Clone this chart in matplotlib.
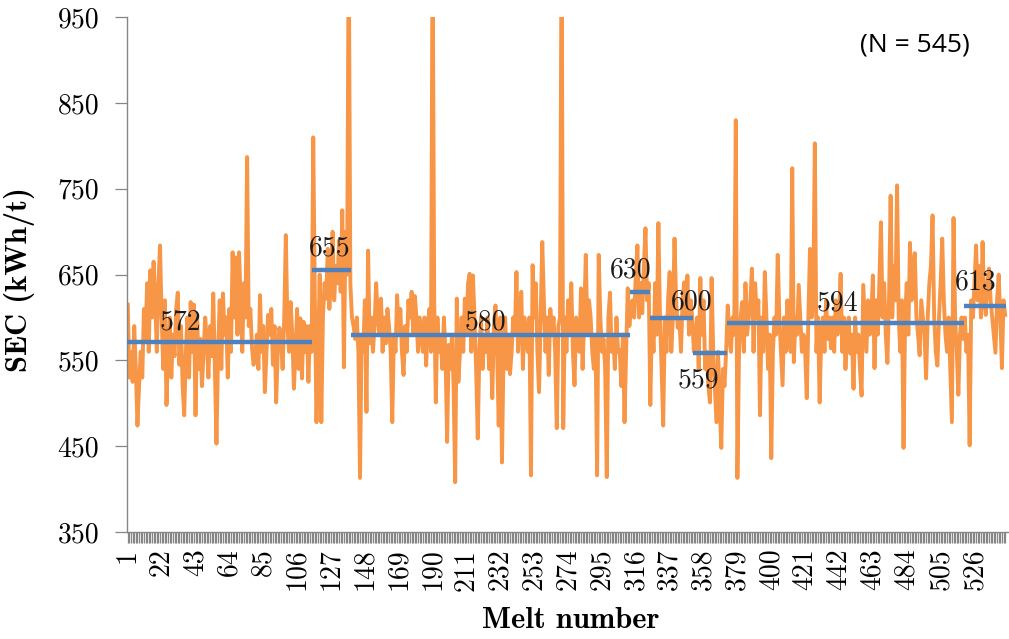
import matplotlib
matplotlib.use("Agg")
import matplotlib.pyplot as plt
import numpy as np

plt.rcParams['axes.formatter.use_mathtext'] = True

# ---- data -------------------------------------------------------------
sec_g1 = [615, 530, 560, 525, 590, 540, 474, 520, 560, 530, 610, 575, 640, 560, 655, 600, 665, 620, 560, 640,
          684, 600, 540, 620, 498, 560, 600, 530, 580, 555, 610, 629, 545, 590, 520, 486, 560, 600, 530, 618,
          560, 615, 486, 600, 540, 575, 520, 560, 600, 572, 530, 590, 555, 628, 540, 453, 560, 620, 540, 628,
          580, 600, 530, 610, 560, 676, 600, 670, 580, 676, 620, 560, 640, 600, 787, 590, 610, 565, 545, 553,
          580, 540, 626, 560, 590, 513, 560, 603, 580, 610, 545, 590, 501, 560, 588, 575, 540, 600, 696, 590,
          560, 618, 580, 517, 560, 610, 540, 599, 529, 595, 560, 590, 525, 590, 560]
sec_g2 = [810, 620, 478, 560, 650, 478, 600, 640, 622, 680, 610, 650, 700, 620, 660, 640, 690, 630, 725, 542,
          700, 650, 1050, 640]
sec_g3 = [600, 590, 575, 600, 560, 413, 580, 560, 620, 490, 678, 570, 600, 560, 590, 640, 600, 580, 622, 560,
          600, 570, 610, 590, 560, 478, 580, 560, 626, 580, 610, 560, 533, 590, 560, 620, 600, 630, 580, 625,
          600, 560, 600, 580, 560, 600, 544, 590, 610, 560, 1050, 620, 501, 600, 560, 580, 540, 600, 560, 455,
          568, 540, 580, 520, 408, 622, 525, 560, 600, 560, 622, 580, 640, 651, 560, 649, 600, 540, 459, 560,
          600, 540, 580, 560, 600, 540, 580, 506, 590, 614, 560, 474, 600, 431, 560, 600, 540, 580, 534, 560,
          600, 580, 653, 560, 600, 630, 540, 600, 580, 560, 600, 416, 661, 600, 640, 560, 513, 600, 688, 620,
          560, 600, 533, 610, 580, 600, 560, 471, 590, 600, 1050, 471, 600, 560, 620, 580, 640, 560, 521, 600,
          580, 560, 634, 540, 600, 673, 580, 620, 600, 560, 540, 580, 416, 673, 600, 560, 575, 540, 414, 600,
          629, 560, 580, 540, 600, 560, 562, 520, 580, 478, 560, 634, 590]
sec_g4 = [611, 620, 600, 650, 684, 600, 640, 605, 660, 704, 620, 640]
sec_g5 = [498, 600, 560, 640, 580, 710, 600, 540, 474, 600, 560, 620, 653, 560, 600, 692, 620, 588, 600, 560,
          620, 641, 600, 649, 580, 620, 600]
sec_g6 = [560, 571, 600, 540, 646, 580, 620, 540, 560, 520, 501, 646, 560, 520, 478, 560, 500, 448, 540, 520,
          560]
sec_g7 = [614, 580, 560, 600, 580, 830, 413, 560, 600, 618, 560, 640, 580, 600, 620, 657, 560, 640, 600, 620,
          486, 600, 560, 653, 600, 540, 580, 436, 560, 600, 580, 673, 600, 560, 521, 600, 560, 620, 580, 560,
          774, 548, 600, 580, 638, 600, 560, 580, 560, 506, 600, 680, 600, 620, 803, 560, 600, 501, 580, 600,
          560, 620, 575, 600, 564, 600, 560, 620, 580, 600, 651, 560, 600, 540, 580, 600, 558, 580, 517, 600,
          560, 580, 540, 509, 638, 600, 560, 620, 580, 600, 649, 541, 620, 580, 640, 711, 600, 640, 580, 547,
          620, 742, 600, 660, 620, 754, 600, 560, 620, 448, 600, 640, 580, 687, 620, 660, 675, 600, 580, 556,
          620, 600, 580, 529, 600, 640, 660, 719, 600, 560, 544, 600, 640, 692, 620, 580, 560, 600, 540, 478,
          716, 600, 560, 510, 580, 600, 575]
sec_g8 = [600, 560, 580, 451, 620, 600, 640, 684, 620, 660, 600, 688, 620, 603, 640, 657, 620, 600, 580, 559,
          620, 650, 600, 541, 620, 603]

groups = [sec_g1, sec_g2, sec_g3, sec_g4, sec_g5, sec_g6, sec_g7, sec_g8]
group_means = [572, 655, 580, 630, 600, 559, 594, 613]
label_dx = [20, -3, 70, -13, 13, -10, 55, -6]   # label left edge offset from segment start (melts)
label_dy = [22, 26, 14, 25, 18, -32, 23, 28]    # label y offset from mean (kWh/t)

sec = np.concatenate(groups)
n = len(sec)
melts = np.arange(1, n + 1)

# ---- figure -----------------------------------------------------------
W, H = 1009, 639
fig = plt.figure(figsize=(W / 100, H / 100), dpi=100)
ax = fig.add_axes([0.126, 0.1675, 0.874, 0.8055])

orange = '#F79646'
blue = '#4F81BD'
grey = '#868686'

ax.plot(melts, sec, color=orange, lw=2.8, solid_joinstyle='round', zorder=2)

start = 1
for g, m, dx, dy in zip(groups, group_means, label_dx, label_dy):
    end = start + len(g) - 1
    ax.hlines(m, start - 0.5, end + 0.5, color=blue, lw=3.2, zorder=3)
    ax.text(start + dx, m + dy, str(m), fontsize=20, family='cmr10',
            ha='left', va='center', color='#1a1a1a', zorder=4)
    start = end + 1

ax.set_ylim(350, 950)
ax.set_xlim(0.6, 547.4)
ax.set_yticks(np.arange(350, 951, 100))
ax.set_yticklabels([str(v) for v in range(350, 951, 100)], family='cmr10', fontsize=20)

major = list(range(1, n + 1, 21))
ax.set_xticks(major)
ax.set_xticklabels([str(v) for v in major], family='cmr10', fontsize=20, rotation=90)
ax.set_xticks(melts, minor=True)
ax.tick_params(axis='x', which='both', length=8, width=0.9, color=grey, direction='out', pad=4)
ax.tick_params(axis='y', length=9, width=0.9, color=grey, direction='out', pad=11)

for s in ['top', 'right']:
    ax.spines[s].set_visible(False)
for s in ['left', 'bottom']:
    ax.spines[s].set_color(grey)
    ax.spines[s].set_linewidth(1.0)

fig.text(20 / W, 1 - 280 / H, 'SEC (kWh/t)', family='cmb10', fontsize=22,
         rotation=90, ha='center', va='center')
fig.text(571 / W, 1 - 620 / H, 'Melt number', family='cmb10', fontsize=22,
         ha='center', va='center')
ax.text(0.893, 0.946, '(N = 545)', transform=ax.transAxes, family='Open Sans',
        fontsize=19, ha='center', va='center')

fig.savefig('out.png', dpi=100)
